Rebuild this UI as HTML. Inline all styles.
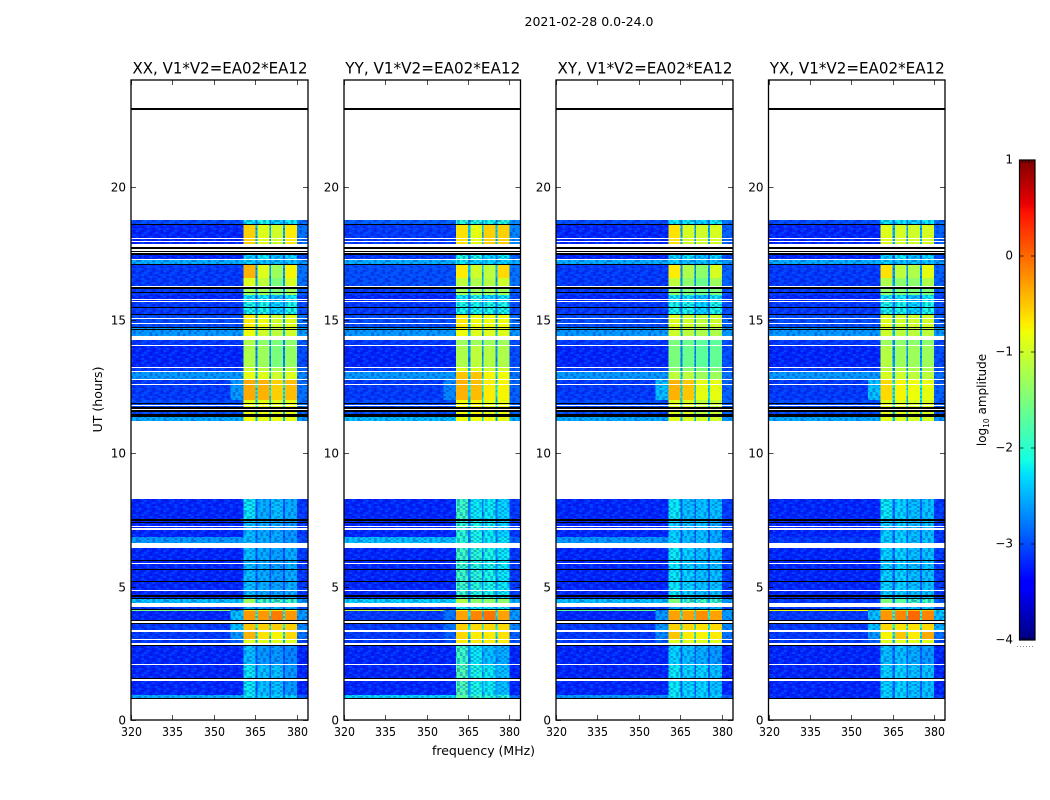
<!DOCTYPE html>
<html>
<head>
<meta charset="utf-8">
<title>2021-02-28 0.0-24.0</title>
<style>
html,body{margin:0;padding:0;background:#fff;}
svg{display:block;}
text{font-family:"DejaVu Sans","Liberation Sans",sans-serif;fill:#000;}
</style>
</head>
<body>
<svg id="fig" xmlns="http://www.w3.org/2000/svg" width="1050" height="800" viewBox="0 0 1050 800">
<defs><pattern id="grain" patternUnits="userSpaceOnUse" x="0" y="0" width="27.7" height="20"></pattern></defs>
<rect width="1050" height="800" fill="#fff"/>
<text x="589" y="26" font-size="12" text-anchor="middle" textLength="129" lengthAdjust="spacingAndGlyphs">2021-02-28 0.0-24.0</text>
<text x="483.5" y="755" font-size="12" text-anchor="middle" textLength="103" lengthAdjust="spacingAndGlyphs">frequency (MHz)</text>
<text transform="translate(102,399.5) rotate(-90)" font-size="12" text-anchor="middle" textLength="66" lengthAdjust="spacingAndGlyphs">UT (hours)</text>
<text transform="translate(986,400) rotate(-90)" font-size="12" text-anchor="middle">log<tspan font-size="7.5" dy="3">10</tspan><tspan dy="-3"> amplitude</tspan></text>
<g id="panels"></g>
<g id="colorbar"></g>
</svg>
<script>
// ---- axis categories and ticks ----
const panelTitles = ["XX, V1*V2=EA02*EA12","YY, V1*V2=EA02*EA12","XY, V1*V2=EA02*EA12","YX, V1*V2=EA02*EA12"];
const freqTicks = [320,335,350,365,380];
const timeTicks = [0,5,10,15,20];
const colorTicks = [1,0,-1,-2,-3,-4];

// ---- frequency channel groups (MHz edges): left, glow, band1, gap, band2, gap, band3, gap, band4, right ----
const freqEdges = [320,356,360.6,365,365.8,370,370.6,375,375.6,380,384];

// ---- time spans with data, hours [upper, lower] ----
const timeSpans = [
[18.75,18.56],[18.56,17.44],[17.44,17.25],[17.25,17.06],[17.06,16.58],[16.58,16.24],[16.24,15.94],[15.94,15.68],[15.68,15.23],
[15.23,14.74],[14.74,14.40],[14.40,14.03],[14.03,13.24],[13.24,13.05],[13.05,12.75],[12.75,12.0],[12.0,11.36],[11.36,11.21],
[8.29,7.54],[7.54,6.86],[6.86,6.64],[6.45,4.54],[4.54,4.37],[4.22,4.14],[4.14,4.07],[4.07,3.68],[3.68,3.38],[3.38,3.0],[3.0,2.85],
[2.78,2.1],[2.1,0.94],[0.94,0.82]
];

// ---- log10 amplitude per span: left, glow, band1, gap, band2, band3, band4, right ----
const levelsXX = [
[-3.0,-3.0,-2.2,-2.8,-2.1,-2.3,-2.2,-2.8],[-3.2,-3.2,-0.55,-2.5,-0.9,-1.0,-0.7,-2.8],[-3.2,-3.2,-2.3,-2.9,-2.2,-2.4,-2.3,-3.0],
[-2.5,-2.5,-2.3,-2.7,-2.4,-2.4,-2.4,-2.6],[-3.1,-3.1,-0.4,-2.6,-0.9,-1.3,-0.75,-2.8],[-3.1,-3.1,-0.9,-2.6,-1.1,-1.5,-0.95,-2.8],
[-3.1,-3.1,-1.3,-2.6,-1.3,-1.5,-1.3,-2.9],[-3.2,-3.2,-2.2,-3.0,-2.2,-2.4,-2.2,-3.1],[-3.1,-3.1,-2.1,-2.8,-2.1,-2.3,-2.1,-3.0],
[-3.0,-3.0,-0.7,-2.5,-0.8,-1.0,-0.9,-2.8],[-2.6,-2.6,-0.8,-2.4,-1.0,-1.1,-1.0,-2.6],[-3.1,-3.1,-1.2,-2.7,-1.4,-1.5,-1.4,-2.9],
[-3.2,-3.2,-1.2,-2.7,-1.3,-1.5,-1.35,-3.0],[-3.1,-3.1,-1.0,-2.6,-1.1,-1.2,-1.1,-2.9],[-2.6,-2.6,-0.85,-2.4,-0.9,-1.0,-0.9,-2.7],
[-3.1,-2.6,-0.35,-2.2,-0.4,-0.55,-0.45,-2.8],[-3.0,-3.0,-0.85,-2.3,-0.85,-0.9,-0.85,-2.8],[-2.5,-2.5,-0.8,-2.4,-0.85,-0.85,-0.85,-2.6],
[-3.2,-3.2,-2.2,-3.0,-2.5,-2.4,-2.5,-3.1],[-3.2,-3.2,-2.4,-3.0,-2.5,-2.5,-2.6,-3.1],[-2.6,-2.6,-2.4,-2.9,-2.5,-2.5,-2.6,-3.0],
[-3.2,-3.2,-2.4,-3.0,-2.5,-2.55,-2.5,-3.1],[-2.4,-2.4,-1.3,-2.5,-1.9,-1.9,-1.9,-2.6],[-3.1,-3.1,-2.5,-2.9,-2.5,-2.5,-2.5,-3.0],
[-1.5,-2.7,-0.6,-2.1,-0.7,-0.7,-0.7,-2.5],[-3.2,-2.4,-0.25,-2.1,-0.25,-0.1,-0.25,-2.6],[-3.1,-2.4,-0.5,-2.1,-0.55,-0.55,-0.55,-2.7],
[-3.1,-2.6,-0.4,-2.2,-0.65,-0.75,-0.6,-2.8],[-3.1,-2.9,-0.9,-2.4,-0.9,-0.9,-0.9,-3.0],[-3.2,-3.2,-2.4,-3.0,-2.6,-2.6,-2.7,-3.2],
[-3.2,-3.2,-2.2,-3.0,-2.4,-2.4,-2.6,-3.2],[-2.5,-2.5,-2.2,-2.8,-2.3,-2.3,-2.3,-2.9]
];
const levelsYY = [
[-2.9,-2.9,-2.0,-2.7,-2.0,-2.1,-2.0,-2.7],[-3.1,-3.1,-0.65,-2.4,-0.85,-0.55,-0.55,-2.7],[-3.1,-3.1,-2.1,-2.8,-2.1,-2.3,-2.2,-2.9],
[-2.5,-2.5,-2.2,-2.6,-2.3,-2.3,-2.3,-2.5],[-3.0,-3.0,-0.7,-2.4,-1.0,-1.1,-0.6,-2.8],[-3.0,-3.0,-1.1,-2.5,-1.2,-1.15,-1.0,-2.8],
[-3.1,-3.1,-1.3,-2.5,-1.3,-1.3,-1.3,-2.9],[-3.2,-3.2,-2.2,-2.9,-2.1,-2.3,-2.2,-3.0],[-3.1,-3.1,-2.1,-2.8,-2.1,-2.1,-2.1,-3.0],
[-3.0,-3.0,-0.7,-2.4,-0.8,-0.8,-0.8,-2.8],[-2.6,-2.6,-0.8,-2.4,-0.9,-0.9,-0.9,-2.6],[-3.1,-3.1,-1.3,-2.6,-1.3,-1.3,-1.3,-3.0],
[-3.2,-3.2,-1.2,-2.6,-1.1,-1.15,-1.2,-3.0],[-3.1,-3.1,-0.9,-2.5,-0.9,-1.0,-1.0,-2.9],[-2.6,-2.6,-0.5,-2.3,-0.5,-0.75,-0.8,-2.8],
[-3.1,-2.7,-0.4,-2.2,-0.45,-0.7,-0.75,-2.9],[-3.0,-3.0,-0.8,-2.3,-0.75,-0.85,-0.85,-2.9],[-2.4,-2.4,-0.8,-2.3,-0.8,-0.8,-0.85,-2.5],
[-3.2,-3.2,-1.9,-2.8,-2.2,-2.2,-2.3,-3.1],[-3.2,-3.2,-2.0,-2.8,-2.1,-2.2,-2.3,-3.1],[-2.4,-2.4,-2.0,-2.7,-2.1,-2.2,-2.2,-2.9],
[-3.2,-3.2,-1.9,-2.7,-2.0,-2.1,-2.2,-3.1],[-2.3,-2.3,-1.2,-2.3,-1.4,-1.4,-1.4,-2.5],[-3.1,-3.1,-2.2,-2.7,-2.2,-2.2,-2.2,-3.0],
[-1.1,-2.7,-0.7,-2.1,-0.7,-0.7,-0.7,-2.5],[-3.1,-2.8,-0.3,-2.2,-0.15,-0.05,-0.3,-2.6],[-3.1,-2.8,-0.55,-2.2,-0.6,-0.6,-0.6,-2.7],
[-3.1,-2.9,-0.6,-2.3,-0.7,-0.7,-0.65,-2.9],[-3.1,-3.0,-0.7,-2.4,-0.7,-0.7,-0.7,-3.0],[-3.2,-3.2,-1.9,-2.7,-2.2,-2.4,-2.5,-3.2],
[-3.2,-3.2,-1.8,-2.6,-2.1,-2.2,-2.4,-3.2],[-2.3,-2.3,-1.7,-2.4,-1.9,-2.0,-2.0,-2.8]
];
const levelsXY = [
[-3.0,-3.0,-2.2,-2.8,-2.2,-2.3,-2.2,-2.8],[-3.2,-3.2,-0.65,-2.5,-0.95,-1.0,-0.95,-2.9],[-3.2,-3.2,-2.3,-2.9,-2.2,-2.4,-2.3,-3.0],
[-2.5,-2.5,-2.3,-2.7,-2.4,-2.4,-2.4,-2.6],[-3.1,-3.1,-0.7,-2.6,-1.2,-1.4,-0.95,-2.9],[-3.1,-3.1,-1.1,-2.6,-1.4,-1.6,-1.3,-2.9],
[-3.1,-3.1,-1.4,-2.6,-1.5,-1.6,-1.5,-3.0],[-3.2,-3.2,-2.2,-3.0,-2.2,-2.4,-2.2,-3.1],[-3.1,-3.1,-2.1,-2.8,-2.1,-2.3,-2.1,-3.0],
[-3.0,-3.0,-0.9,-2.5,-1.0,-1.1,-1.0,-2.9],[-2.6,-2.6,-1.0,-2.4,-1.1,-1.2,-1.2,-2.6],[-3.1,-3.1,-1.5,-2.7,-1.6,-1.7,-1.7,-3.0],
[-3.2,-3.2,-1.5,-2.7,-1.6,-1.7,-1.65,-3.0],[-3.1,-3.1,-1.4,-2.6,-1.4,-1.5,-1.5,-3.0],[-2.6,-2.6,-1.1,-2.4,-1.1,-1.3,-1.3,-2.8],
[-3.1,-2.4,-0.4,-2.2,-0.5,-0.85,-0.85,-2.9],[-3.0,-3.0,-0.9,-2.3,-0.9,-1.1,-1.05,-2.9],[-2.5,-2.5,-0.9,-2.4,-0.95,-1.0,-1.0,-2.6],
[-3.2,-3.2,-2.2,-2.9,-2.4,-2.4,-2.4,-3.1],[-3.2,-3.2,-2.3,-3.0,-2.4,-2.4,-2.5,-3.1],[-2.6,-2.6,-2.3,-2.9,-2.4,-2.4,-2.5,-3.0],
[-3.2,-3.2,-2.2,-2.9,-2.3,-2.4,-2.4,-3.1],[-2.4,-2.4,-1.5,-2.5,-1.9,-1.9,-1.9,-2.6],[-3.1,-3.1,-2.5,-2.9,-2.5,-2.5,-2.5,-3.0],
[-1.7,-2.7,-0.6,-2.1,-0.7,-0.7,-0.7,-2.5],[-3.2,-2.6,-0.3,-2.1,-0.3,-0.2,-0.3,-2.6],[-3.1,-2.6,-0.55,-2.1,-0.6,-0.65,-0.6,-2.7],
[-3.1,-2.7,-0.5,-2.2,-0.7,-0.75,-0.7,-2.8],[-3.1,-2.9,-0.9,-2.4,-0.9,-0.9,-0.9,-3.0],[-3.2,-3.2,-2.3,-2.9,-2.4,-2.5,-2.6,-3.2],
[-3.2,-3.2,-2.2,-2.9,-2.3,-2.3,-2.4,-3.2],[-2.6,-2.6,-2.2,-2.8,-2.3,-2.3,-2.3,-2.9]
];
const levelsYX = [
[-3.0,-3.0,-2.2,-2.8,-2.2,-2.3,-2.2,-2.8],[-3.2,-3.2,-0.9,-2.5,-0.95,-1.0,-0.95,-2.9],[-3.2,-3.2,-2.3,-2.9,-2.2,-2.4,-2.3,-3.0],
[-2.5,-2.5,-2.3,-2.7,-2.4,-2.4,-2.4,-2.6],[-3.1,-3.1,-0.65,-2.6,-1.1,-1.2,-0.85,-2.9],[-3.1,-3.1,-1.2,-2.6,-1.4,-1.4,-1.2,-2.9],
[-3.1,-3.1,-1.4,-2.6,-1.5,-1.5,-1.5,-3.0],[-3.2,-3.2,-2.2,-3.0,-2.2,-2.4,-2.2,-3.1],[-3.1,-3.1,-2.1,-2.8,-2.1,-2.3,-2.1,-3.0],
[-3.0,-3.0,-0.9,-2.5,-1.0,-1.0,-1.0,-2.9],[-2.6,-2.6,-1.0,-2.4,-1.1,-1.1,-1.1,-2.6],[-3.1,-3.1,-1.3,-2.7,-1.4,-1.4,-1.4,-3.0],
[-3.2,-3.2,-1.15,-2.6,-1.3,-1.3,-1.3,-3.0],[-3.1,-3.1,-1.1,-2.6,-1.1,-1.2,-1.2,-3.0],[-2.6,-2.6,-0.95,-2.4,-1.0,-1.1,-1.1,-2.8],
[-3.1,-2.4,-0.6,-2.2,-0.75,-0.8,-0.85,-2.9],[-3.0,-3.0,-0.9,-2.3,-0.9,-0.95,-0.95,-2.9],[-2.5,-2.5,-0.9,-2.4,-0.95,-1.0,-1.0,-2.6],
[-3.2,-3.2,-2.2,-2.9,-2.3,-2.4,-2.4,-3.1],[-3.2,-3.2,-2.3,-2.9,-2.3,-2.4,-2.4,-3.1],[-3.1,-3.1,-2.3,-2.9,-2.3,-2.4,-2.4,-3.1],
[-3.2,-3.2,-2.3,-2.9,-2.3,-2.4,-2.4,-3.1],[-3.1,-3.1,-1.5,-2.7,-1.7,-1.9,-1.9,-2.9],[-3.1,-3.1,-2.4,-2.9,-2.4,-2.4,-2.4,-3.0],
[-0.8,-2.5,-0.5,-2.0,-0.5,-0.5,-0.5,-2.2],[-3.1,-2.4,-0.25,-2.0,-0.15,0.0,-0.15,-2.4],[-3.1,-2.4,-0.6,-2.0,-0.65,-0.65,-0.6,-2.5],
[-3.1,-2.6,-0.75,-2.2,-0.5,-0.7,-0.35,-2.8],[-3.1,-2.9,-0.9,-2.4,-0.9,-0.9,-0.9,-3.0],[-3.2,-3.2,-2.4,-2.9,-2.4,-2.5,-2.6,-3.2],
[-3.2,-3.2,-2.3,-2.9,-2.3,-2.4,-2.4,-3.2],[-3.2,-3.2,-2.3,-2.9,-2.3,-2.4,-2.4,-3.1]
];

// ---- flagged time ranges, hours [upper, lower] ----
const blackFlags = [
[22.95,22.875],[18.6,18.55],[17.73,17.67],[17.6,17.55],[17.52,17.45],[17.09,17.06],[16.22,16.18],[16.05,16.01],[15.5,15.46],[15.21,15.18],
[14.73,14.7],[14.66,14.63],[11.9,11.86],[11.72,11.68],[11.63,11.54],[11.46,11.37],[7.53,7.47],[7.44,7.4],[5.99,5.96],[5.66,5.63],[5.21,5.18],
[4.68,4.63],[4.59,4.54],[4.15,4.12],[3.75,3.71],[3.63,3.59],[2.82,2.76],[1.56,1.53],[0.82,0.79]
];
const whiteFlags = [
[18.09,18.06],[17.96,17.92],[17.84,17.74],[17.67,17.6],[17.55,17.52],[17.27,17.24],[16.28,16.24],[15.79,15.76],[15.72,15.69],[15.06,15.03],
[14.9,14.86],[14.41,14.25],[14.06,14.04],[13.24,13.21],[13.09,13.05],[12.78,12.75],[12.6,12.57],[11.81,11.79],[11.68,11.64],[7.28,7.23],
[7.19,7.14],[6.65,6.45],[5.9,5.85],[4.88,4.84],[4.37,4.22],[3.71,3.65],[3.38,3.31],[3.04,3.0],[2.87,2.82],[2.1,2.06],[1.53,1.46]
];

// ---- decorative receiver-grain swatch (visual texture only, not data): d = darker, l = lighter ----
const grainTile = [
"d.l..d.l.d",
".l.d.l..d.",
"d..l.d.d.l",
".d.l..l.d.",
"l.d..d.l..",
".d.l.d..dl",
"d.l.d.l.d.",
".l..d.d.l.",
"d.d.l..d.l",
".l.d.d.l.d"
];

const panelLevels = [levelsXX, levelsYY, levelsXY, levelsYX];
const panelBoxes = [{x:131,w:177},{x:344,w:176.5},{x:556,w:177},{x:768.5,w:176.5}];
const plotTop = 80, plotBottom = 720;
const cbar = {x:1019.5,w:15.5,top:160,bottom:640,min:-4,max:1};
const SVGNS = "http://www.w3.org/2000/svg";

function make(tag, attrs, parent){
  const el = document.createElementNS(SVGNS, tag);
  for(const k in attrs){ el.setAttribute(k, attrs[k]); }
  parent.appendChild(el);
  return el;
}
function yScale(t){ return plotBottom - (t/24)*(plotBottom-plotTop); }
function xScale(box,f){ return box.x + ((f-320)/64)*box.w; }
function cScale(v){ return cbar.bottom - ((v-cbar.min)/(cbar.max-cbar.min))*(cbar.bottom-cbar.top); }
function jetChannel(t, pts){
  for(let i=1;i<pts.length;i++){
    if(t<=pts[i][0]){
      const a=pts[i-1], b=pts[i];
      return a[1]+(b[1]-a[1])*(t-a[0])/(b[0]-a[0]);
    }
  }
  return pts[pts.length-1][1];
}
function jet(v){
  const t=Math.max(0,Math.min(1,(v-cbar.min)/(cbar.max-cbar.min)));
  const r=jetChannel(t,[[0,0],[0.35,0],[0.66,1],[0.89,1],[1,0.5]]);
  const g=jetChannel(t,[[0,0],[0.125,0],[0.375,1],[0.64,1],[0.91,0],[1,0]]);
  const b=jetChannel(t,[[0,0.5],[0.11,1],[0.34,1],[0.65,0],[1,0]]);
  return "rgb("+Math.round(r*255)+","+Math.round(g*255)+","+Math.round(b*255)+")";
}
function levelFor(row, col){
  // columns: left, glow, band1, gap, band2, gap, band3, gap, band4, right
  const map=[0,1,2,3,4,3,5,3,6,7];
  return row[map[col]];
}

const grainPattern=document.getElementById("grain");
grainTile.forEach(function(line,r){
  line.split("").forEach(function(ch,c){
    if(ch==="."){ return; }
    const speck=make("rect",{x:c*2.77,y:r*2,width:2.77,height:2,fill:ch==="d"?"#0000a0":"#0070ff","fill-opacity":ch==="d"?0.3:0.4},grainPattern);
    
    
  });
});

const panelsGroup = document.getElementById("panels");
panelTitles.forEach(function(title,p){
  const box = panelBoxes[p];
  const g = make("g",{},panelsGroup);
  
  

  const levels = panelLevels[p];
  timeSpans.forEach(function(span,r){
    const y0=Math.round(yScale(span[0])), y1=Math.round(yScale(span[1]));
    for(let c=0;c<freqEdges.length-1;c++){
      const x0=xScale(box,freqEdges[c]), x1=xScale(box,freqEdges[c+1]);
      const lv=levelFor(levels[r],c);
      const cell=make("rect",{x:x0,y:y0,width:x1-x0,height:y1-y0,fill:jet(lv),"shape-rendering":"crispEdges"},g);
      
      
      if(lv<-1.7){
        const tex=make("rect",{x:x0,y:y0,width:x1-x0,height:y1-y0,fill:"url(#grain)"},g);
        
        
      }
    }
  });
  blackFlags.forEach(function(f){
    const y0=Math.round(yScale(f[0])), y1=Math.round(yScale(f[1]));
    const flag=make("rect",{x:box.x,y:y0,width:box.w,height:Math.max(1,y1-y0),fill:"#000","shape-rendering":"crispEdges"},g);
    
    
  });
  whiteFlags.forEach(function(f){
    const y0=Math.round(yScale(f[0])), y1=Math.round(yScale(f[1]));
    const flag=make("rect",{x:box.x,y:y0,width:box.w,height:Math.max(1,y1-y0),fill:"#fff","shape-rendering":"crispEdges"},g);
    
    
  });

  const frame=make("rect",{x:box.x,y:plotTop,width:box.w,height:plotBottom-plotTop,fill:"none",stroke:"#000","stroke-width":1.3},g);
  
  

  freqTicks.forEach(function(f){
    const x=Math.round(xScale(box,f))+0.5;
    const bt=make("line",{x1:x,x2:x,y1:plotBottom,y2:plotBottom-5,stroke:"#000","stroke-width":0.7},g);
    
    
    const tt=make("line",{x1:x,x2:x,y1:plotTop,y2:plotTop+5,stroke:"#000","stroke-width":0.7},g);
    
    
    const lab=make("text",{x:x,y:736,"font-size":12,"text-anchor":"middle",textLength:21,lengthAdjust:"spacingAndGlyphs"},g);
    
    
    lab.textContent=f;
  });
  timeTicks.forEach(function(t){
    const y=Math.round(yScale(t))+0.5;
    const lt=make("line",{x1:box.x,x2:box.x+5,y1:y,y2:y,stroke:"#000","stroke-width":0.7},g);
    
    
    const rt=make("line",{x1:box.x+box.w,x2:box.x+box.w-5,y1:y,y2:y,stroke:"#000","stroke-width":0.7},g);
    
    
    const lab=make("text",{x:box.x-5,y:y+4,"font-size":12,"text-anchor":"end"},g);
    
    
    lab.textContent=t;
  });

  const head=make("text",{x:box.x+box.w/2+0.5,y:73.5,"font-size":15.6,"text-anchor":"middle",textLength:175,lengthAdjust:"spacingAndGlyphs"},g);
  
  
  head.textContent=title;
});

// ---- colorbar ----
const cbGroup=document.getElementById("colorbar");
for(let py=cbar.top;py<cbar.bottom;py+=2){
  const v=cbar.max-((py+1-cbar.top)/(cbar.bottom-cbar.top))*(cbar.max-cbar.min);
  const s=make("rect",{x:cbar.x,y:py,width:cbar.w,height:2,fill:jet(v),"shape-rendering":"crispEdges"},cbGroup);
  
  
}
const cbFrame=make("rect",{x:cbar.x,y:cbar.top,width:cbar.w,height:cbar.bottom-cbar.top,fill:"none",stroke:"#000","stroke-width":1.2},cbGroup);


colorTicks.forEach(function(v){
  const y=cScale(v);
  const l=make("line",{x1:cbar.x,x2:cbar.x+4,y1:y,y2:y,stroke:"#000","stroke-width":0.7},cbGroup);
  
  
  const r=make("line",{x1:cbar.x+cbar.w,x2:cbar.x+cbar.w-4,y1:y,y2:y,stroke:"#000","stroke-width":0.7},cbGroup);
  
  
  const lab=make("text",{x:1013,y:y+3.5,"font-size":12,"text-anchor":"end"},cbGroup);
  
  
  lab.textContent=(v<0?"\u2212":"")+Math.abs(v);
});
[cbar.top,cbar.bottom-3].forEach(function(y){
  for(let i=1;i<=4;i++){
    const x=cbar.x+i*cbar.w/5;
    const m=make("line",{x1:x,x2:x,y1:y,y2:y+3,stroke:"#000","stroke-width":0.7},cbGroup);
    
    
  }
});
const dots=make("line",{x1:1017,x2:1035,y1:646.5,y2:646.5,stroke:"#888","stroke-width":1,"stroke-dasharray":"1 2"},cbGroup);


</script>
</body>
</html>
